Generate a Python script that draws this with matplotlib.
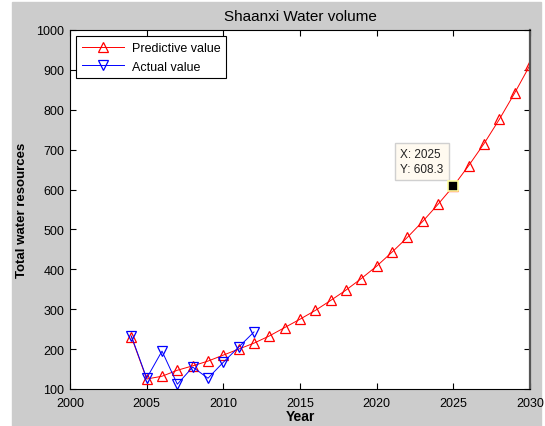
import matplotlib.pyplot as plt
from matplotlib.patches import Rectangle

plt.rcParams['font.family'] = ['Liberation Sans', 'DejaVu Sans']

# predicted series (2004-2030)
pred_years = list(range(2004, 2031))
pred_vals = [231, 125, 132, 147, 158, 170, 185, 200, 215, 233, 254, 275, 297,
             322, 348, 377, 408, 443, 480, 520, 563, 608.3, 660, 715, 776, 842, 912]

# observed series (2004-2012)
act_years = list(range(2004, 2013))
act_vals = [233, 127, 195, 112, 155, 127, 167, 205, 243]

tip_x, tip_y = 2025, 608.3

fig = plt.figure(figsize=(5.45, 4.27), dpi=100, facecolor='white')
# grey matlab-style figure panel
fig.patches.append(Rectangle((12 / 545, 0), 529 / 545, 424 / 427,
                             transform=fig.transFigure, color='#cccccc', zorder=-1))
ax = fig.add_axes([70 / 545, 37 / 427, 460 / 545, 359 / 427])

ax.plot(pred_years, pred_vals, color='red', lw=0.7, marker='^', ms=7,
        mfc='none', mec='red', mew=0.9, label='Predictive value')
ax.plot(act_years, act_vals, color='blue', lw=0.7, marker='v', ms=7,
        mfc='none', mec='blue', mew=0.9, label='Actual value')

# data tip
ax.plot([tip_x], [tip_y], marker='s', ms=6.5, color='black', mec='#ffffa0', mew=1.2, zorder=5)
ax.annotate('X: 2025\nY: 608.3', xy=(tip_x, tip_y), xytext=(-7, 8),
            textcoords='offset points', ha='right', va='bottom', multialignment='left',
            fontsize=8.5, linespacing=1.35, color='#222222',
            bbox=dict(boxstyle='square,pad=0.45', fc='#fffaf0', ec='#d0d0d0', lw=1))

ax.set_xlim(2000, 2030)
ax.set_ylim(100, 1000)
ax.set_xticks(range(2000, 2031, 5))
ax.set_yticks(range(100, 1001, 100))
ax.tick_params(direction='in', top=True, right=True, labelsize=9, length=4)
ax.tick_params(axis='x', pad=6)
ax.tick_params(axis='y', pad=4)
ax.set_xlabel('Year', fontweight='bold', fontsize=10, labelpad=0)
ax.set_ylabel('Total water resources', fontweight='bold', fontsize=9.5, labelpad=6)
ax.set_title('Shaanxi Water volume', fontsize=11, pad=7)
for s in ax.spines.values():
    s.set_linewidth(0.8)
ax.spines['right'].set_color('#555555')
ax.spines['right'].set_linewidth(1.6)

leg = ax.legend(loc='upper left', fontsize=9, fancybox=False, framealpha=1,
                edgecolor='black', borderaxespad=0.5, handlelength=3.4,
                borderpad=0.45, labelspacing=0.55, handletextpad=0.6)
leg.get_frame().set_linewidth(0.8)

fig.savefig('out.png', dpi=100, facecolor=fig.get_facecolor())
